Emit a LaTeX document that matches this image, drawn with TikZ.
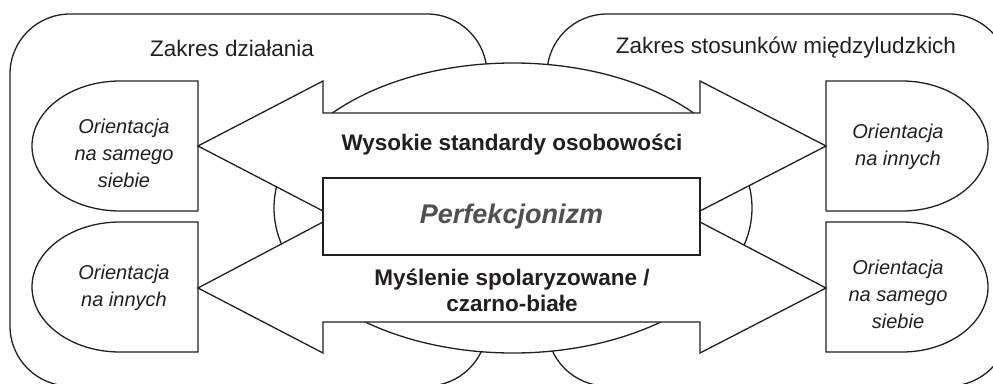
\documentclass[tikz,border=0pt]{standalone}
\usepackage{fontspec}
\setmainfont{Liberation Sans}
\definecolor{ink}{HTML}{231F20}
\definecolor{perfgray}{HTML}{505050}
\begin{document}
\begin{tikzpicture}[x=1pt,y=-1pt,
  outline/.style={draw=ink, line width=1.3pt, line join=miter},
  title/.style={font=\fontsize{22.5}{27}\selectfont, text=ink, inner sep=0pt},
  orient/.style={font=\fontsize{20}{27}\selectfont\itshape, text=ink, align=center, inner sep=0pt},
  boldlab/.style={font=\fontsize{22.5}{26}\selectfont\bfseries, text=ink, align=center, inner sep=0pt},
  perfbox/.style={draw=ink, line width=1.3pt, fill=white, minimum width=377pt, minimum height=77pt, inner sep=0pt,
    font=\fontsize{27}{30}\selectfont\bfseries\itshape, text=perfgray}]
\useasboundingbox (0,0) rectangle (993,383);
\clip (0,0) rectangle (993,383);
% outer areas
\draw[outline, rounded corners=60pt] (10,14) rectangle (487,386);
\draw[outline, rounded corners=60pt] (547,14) rectangle (1009,386);
\node[title] (tl) at (232,48) {Zakres działania};
\node[title] (tr) at (786,48) {Zakres stosunków międzyludzkich};
% central ellipse
\draw[outline, fill=white] (513,208) ellipse [x radius=239pt, y radius=145pt];
% orientation shapes
\draw[outline, fill=white] (198,81) -- (120,81) arc[start angle=90, end angle=270, x radius=88pt, y radius=65pt] -- (198,211) -- cycle;
\draw[outline, fill=white] (198,222) -- (120,222) arc[start angle=90, end angle=270, x radius=88pt, y radius=65pt] -- (198,352) -- cycle;
\draw[outline, fill=white] (826,81) -- (902,81) arc[start angle=90, end angle=-90, x radius=86pt, y radius=65pt] -- (826,211) -- cycle;
\draw[outline, fill=white] (826,222) -- (902,222) arc[start angle=90, end angle=-90, x radius=86pt, y radius=65pt] -- (826,352) -- cycle;
\node[orient] (o1) at (124,153) {Orientacja\\na samego\\siebie};
\node[orient] (o2) at (124,288) {Orientacja\\na innych};
\node[orient] (o3) at (898,147) {Orientacja\\na innych};
\node[orient] (o4) at (898,294) {Orientacja\\na samego\\siebie};
% double arrows
\draw[outline, fill=white] (198,146) -- (323,81) -- (323,113) -- (700,113) -- (700,81) -- (826,146)
  -- (700,211) -- (700,178) -- (323,178) -- (323,211) -- cycle;
\draw[outline, fill=white] (198,288) -- (323,222) -- (323,255) -- (700,255) -- (700,222) -- (826,288)
  -- (700,353) -- (700,322) -- (323,322) -- (323,353) -- cycle;
\node[boldlab] (a1) at (512,145) {Wysokie standardy osobowości};
\node[boldlab] (a2) at (512,290) {Myślenie spolaryzowane /\\czarno-białe};
% centre
\node[perfbox] (perf) at (511.5,216.5) {Perfekcjonizm};
\end{tikzpicture}
\end{document}
